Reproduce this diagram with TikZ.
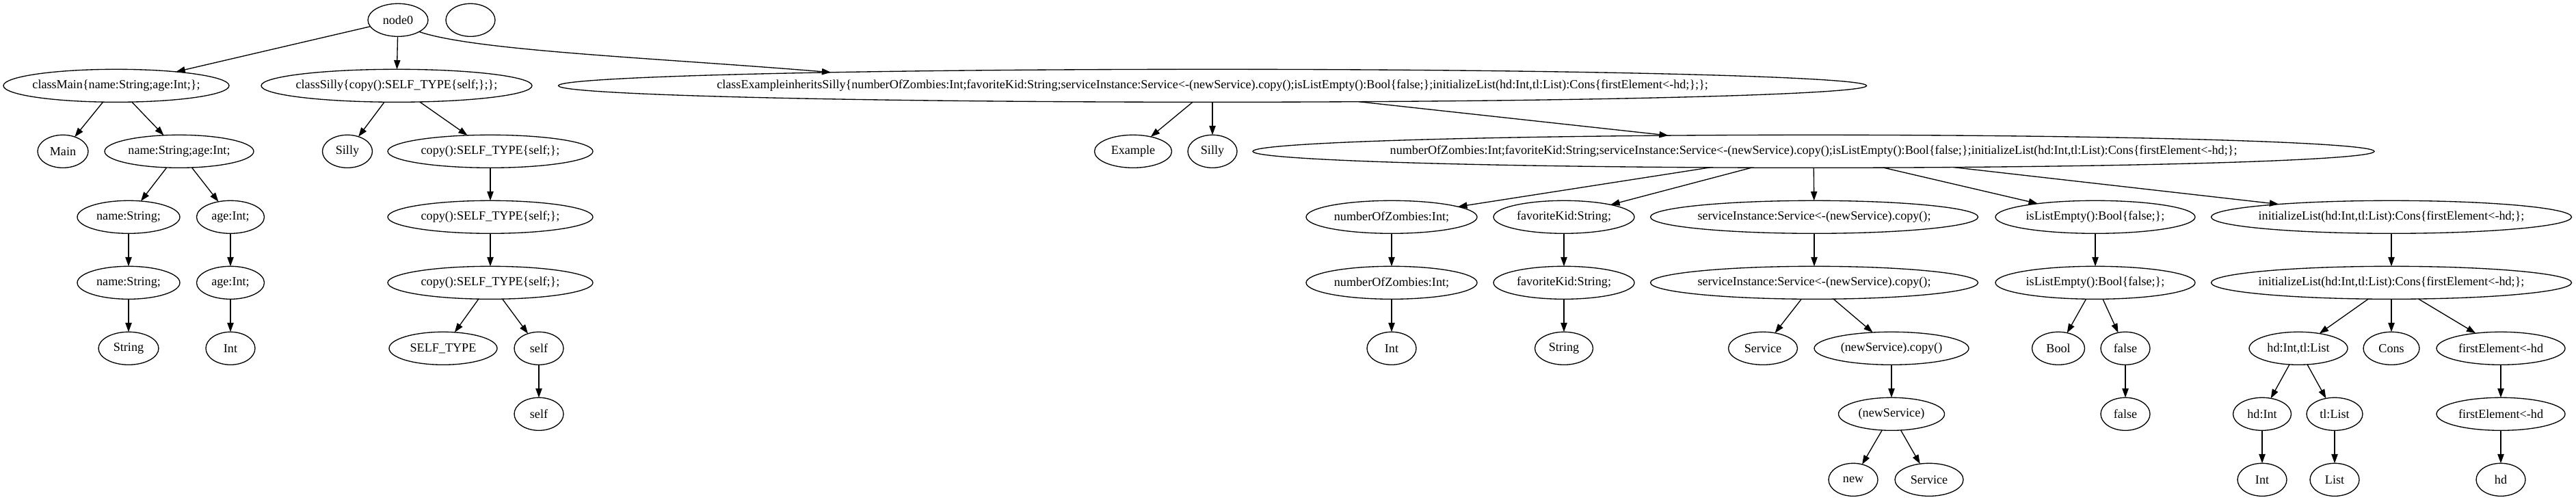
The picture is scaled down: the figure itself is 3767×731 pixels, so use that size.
\documentclass[tikz,border=0pt]{standalone}
\usepackage{fontspec}
\setmainfont{Liberation Serif}
\usetikzlibrary{shapes.geometric,arrows.meta}
\newcommand\zw[1]{\makebox[0pt]{#1}}
\tikzset{
  gv/.style={ellipse, draw, line width=1pt, minimum height=36pt, inner sep=0pt, outer sep=0pt,
    font=\fontsize{13.6}{16}\selectfont, minimum width=#1*0.75pt},
  edge/.style={line width=1pt, -{Triangle[length=10pt,width=7pt]}}
}
\begin{document}
\begin{tikzpicture}[x=0.75pt,y=-0.75pt]
\useasboundingbox (0,0) rectangle (3767,731);
% row 0
\node[gv=88] (node0) at (582,29.3) {\zw{node0}};
\node[gv=72] (empty) at (688,29.3) {};
% row 1
\node[gv=330] (cmain) at (170,125.3) {\zw{classMain\{name:String;age:Int;\};}};
\node[gv=396] (csilly) at (580,125.3) {\zw{classSilly\{copy():SELF\_TYPE\{self;\};\};}};
\node[gv=1913] (cex) at (1773,125.3) {\zw{classExampleinheritsSilly\{numberOfZombies:Int;favoriteKid:String;serviceInstance:Service<-(newService).copy();isListEmpty():Bool\{false;\};initializeList(hd:Int,tl:List):Cons\{firstElement<-hd;\};\};}};
% row 2
\node[gv=74] (main) at (92,221.3) {\zw{Main}};
\node[gv=218] (nameage) at (262,221.3) {\zw{name:String;age:Int;}};
\node[gv=73] (silly1) at (508,221.3) {\zw{Silly}};
\node[gv=300] (copy1) at (717,221.3) {\zw{copy():SELF\_TYPE\{self;\};}};
\node[gv=113] (example) at (1657,221.3) {\zw{Example}};
\node[gv=72] (silly2) at (1773,221.3) {\zw{Silly}};
\node[gv=1640] (big) at (2652,221.3) {\zw{numberOfZombies:Int;favoriteKid:String;serviceInstance:Service<-(newService).copy();isListEmpty():Bool\{false;\};initializeList(hd:Int,tl:List):Cons\{firstElement<-hd;\};}};
% row 3
\node[gv=150] (name1) at (188,317.3) {\zw{name:String;}};
\node[gv=99] (age1) at (337,317.3) {\zw{age:Int;}};
\node[gv=300] (copy2) at (717,317.3) {\zw{copy():SELF\_TYPE\{self;\};}};
\node[gv=250] (noz1) at (2035,317.3) {\zw{numberOfZombies:Int;}};
\node[gv=206] (fk1) at (2287,317.3) {\zw{favoriteKid:String;}};
\node[gv=479] (si1) at (2653,317.3) {\zw{serviceInstance:Service<-(newService).copy();}};
\node[gv=292] (ile1) at (3064,317.3) {\zw{isListEmpty():Bool\{false;\};}};
\node[gv=527] (il1) at (3497,317.3) {\zw{initializeList(hd:Int,tl:List):Cons\{firstElement<-hd;\};}};
% row 4
\node[gv=150] (name2) at (188,413.3) {\zw{name:String;}};
\node[gv=99] (age2) at (337,413.3) {\zw{age:Int;}};
\node[gv=300] (copy3) at (717,413.3) {\zw{copy():SELF\_TYPE\{self;\};}};
\node[gv=250] (noz2) at (2035,413.3) {\zw{numberOfZombies:Int;}};
\node[gv=206] (fk2) at (2287,413.3) {\zw{favoriteKid:String;}};
\node[gv=479] (si2) at (2653,413.3) {\zw{serviceInstance:Service<-(newService).copy();}};
\node[gv=292] (ile2) at (3064,413.3) {\zw{isListEmpty():Bool\{false;\};}};
\node[gv=527] (il2) at (3497,413.3) {\zw{initializeList(hd:Int,tl:List):Cons\{firstElement<-hd;\};}};
% row 5
\node[gv=88] (string1) at (188,509.3) {\zw{String}};
\node[gv=72] (int1) at (337,509.3) {\zw{Int}};
\node[gv=158] (selftype) at (648,509.3) {\zw{SELF\_TYPE}};
\node[gv=72] (self1) at (788,509.3) {\zw{self}};
\node[gv=72] (int2) at (2035,509.3) {\zw{Int}};
\node[gv=85] (string2) at (2287,509.3) {\zw{String}};
\node[gv=101] (service1) at (2578,509.3) {\zw{Service}};
\node[gv=226] (nsc) at (2766,509.3) {\zw{(newService).copy()}};
\node[gv=77] (bool) at (3010,509.3) {\zw{Bool}};
\node[gv=72] (false1) at (3108,509.3) {\zw{false}};
\node[gv=144] (hdtl) at (3361,509.3) {\zw{hd:Int,tl:List}};
\node[gv=82] (cons) at (3497,509.3) {\zw{Cons}};
\node[gv=188] (fe1) at (3657,509.3) {\zw{firstElement<-hd}};
% row 6
\node[gv=72] (self2) at (788,605.3) {\zw{self}};
\node[gv=155] (ns) at (2766,605.3) {\zw{(newService)}};
\node[gv=72] (false2) at (3108,605.3) {\zw{false}};
\node[gv=85] (hdint) at (3308,605.3) {\zw{hd:Int}};
\node[gv=82] (tllist) at (3414,605.3) {\zw{tl:List}};
\node[gv=188] (fe2) at (3657,605.3) {\zw{firstElement<-hd}};
% row 7
\node[gv=72] (new) at (2710,701.3) {\zw{new}};
\node[gv=100] (service2) at (2821,701.3) {\zw{Service}};
\node[gv=72] (int3) at (3308,701.3) {\zw{Int}};
\node[gv=72] (list) at (3414,701.3) {\zw{List}};
\node[gv=72] (hd) at (3657,701.3) {\zw{hd}};
% edges
\draw[edge] (node0) -- (cmain);
\draw[edge] (node0) -- (csilly);
\draw[edge] (node0.-29) .. controls +(82,28) and +(-253,-21) .. (cex.178.06);
\draw[edge] (cmain) -- (main);
\draw[edge] (cmain) -- (nameage);
\draw[edge] (nameage) -- (name1);
\draw[edge] (nameage) -- (age1);
\draw[edge] (name1) -- (name2);
\draw[edge] (name2) -- (string1);
\draw[edge] (age1) -- (age2);
\draw[edge] (age2) -- (int1);
\draw[edge] (csilly) -- (silly1);
\draw[edge] (csilly) -- (copy1);
\draw[edge] (copy1) -- (copy2);
\draw[edge] (copy2) -- (copy3);
\draw[edge] (copy3) -- (selftype);
\draw[edge] (copy3) -- (self1);
\draw[edge] (self1) -- (self2);
\draw[edge] (cex) -- (example);
\draw[edge] (cex) -- (silly2);
\draw[edge] (cex) -- (big);
\draw[edge] (big) -- (noz1);
\draw[edge] (big) -- (fk1);
\draw[edge] (big) -- (si1);
\draw[edge] (big) -- (ile1);
\draw[edge] (big) -- (il1);
\draw[edge] (noz1) -- (noz2);
\draw[edge] (noz2) -- (int2);
\draw[edge] (fk1) -- (fk2);
\draw[edge] (fk2) -- (string2);
\draw[edge] (si1) -- (si2);
\draw[edge] (si2) -- (service1);
\draw[edge] (si2) -- (nsc);
\draw[edge] (nsc) -- (ns);
\draw[edge] (ns) -- (new);
\draw[edge] (ns) -- (service2);
\draw[edge] (ile1) -- (ile2);
\draw[edge] (ile2) -- (bool);
\draw[edge] (ile2) -- (false1);
\draw[edge] (false1) -- (false2);
\draw[edge] (il1) -- (il2);
\draw[edge] (il2) -- (hdtl);
\draw[edge] (il2) -- (cons);
\draw[edge] (il2) -- (fe1);
\draw[edge] (hdtl) -- (hdint);
\draw[edge] (hdtl) -- (tllist);
\draw[edge] (hdint) -- (int3);
\draw[edge] (tllist) -- (list);
\draw[edge] (fe1) -- (fe2);
\draw[edge] (fe2) -- (hd);
\end{tikzpicture}
\end{document}
